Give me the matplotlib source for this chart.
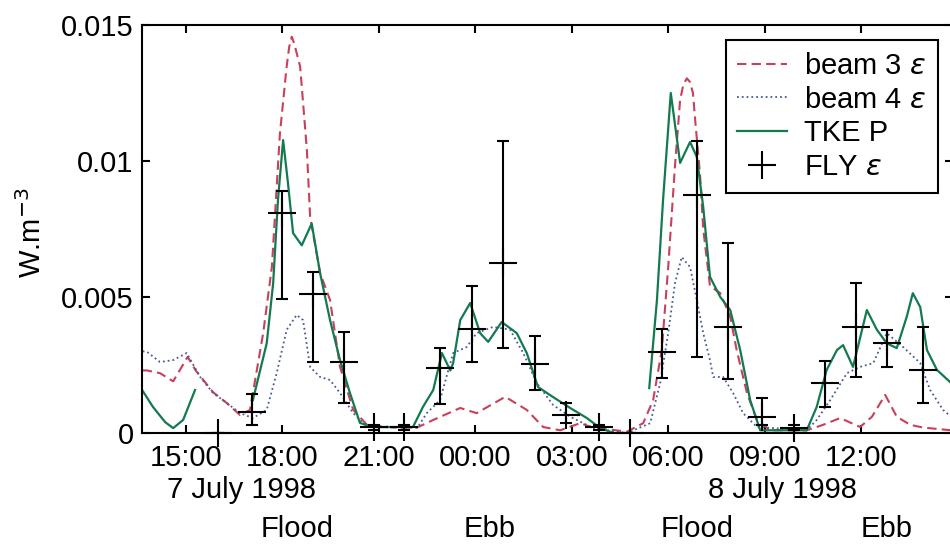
import numpy as np
import matplotlib
matplotlib.use("Agg")
import matplotlib.pyplot as plt
from matplotlib import transforms
from matplotlib.lines import Line2D

# time in hours since 7 July 1998 00:00
beam3_t = [13.65, 13.78, 14.19, 14.60, 14.85, 15.05, 15.30, 15.84, 16.27, 16.68, 16.99,
           17.40, 17.67, 17.92, 18.13, 18.21, 18.29, 18.37, 18.55, 18.76, 18.86, 19.17, 19.48, 19.79,
           20.20, 20.63, 21.50, 22.19, 22.69, 23.53, 24.04, 24.93, 25.60, 26.11, 26.64,
           27.26, 27.66, 28.72, 29.22, 29.53, 29.80, 30.00, 30.21, 30.37, 30.47, 30.58, 30.68, 30.77,
           30.84, 30.99, 31.09, 31.30, 31.62, 31.93, 32.13, 32.45, 32.76, 33.17, 34.31,
           34.82, 35.35, 35.97, 36.34, 36.75, 37.11, 37.53, 37.93, 38.80]
beam3 = [0.0023, 0.0023, 0.0022, 0.0019, 0.0024, 0.0028, 0.0023, 0.0015, 0.0011, 0.00066, 0.00085,
         0.00367, 0.0061, 0.0110, 0.01347, 0.0142, 0.01457, 0.0143, 0.01347, 0.0104, 0.00795, 0.00588, 0.00489, 0.00243,
         0.00085, 0.0003, 0.0002, 0.0002, 0.00048, 0.00092, 0.00073, 0.00133, 0.00085, 0.00022, 0.0001,
         0.00036, 0.0002, 0.00005, 0.00036, 0.0012, 0.00305, 0.0061, 0.0098, 0.01224, 0.0128, 0.01304, 0.0129, 0.0125,
         0.0115, 0.0095, 0.0075, 0.0054, 0.00514, 0.00427, 0.00305, 0.00147, 0.00048, 0.0001, 0.0001,
         0.0003, 0.00055, 0.00022, 0.0006, 0.0014, 0.0006, 0.0003, 0.0002, 0.0001]

beam4_t = [13.65, 13.78, 14.19, 14.60, 15.02, 15.44, 15.84, 16.27, 16.68, 17.08, 17.51,
           17.82, 18.13, 18.44, 18.64, 18.86, 19.17, 19.48, 19.79, 20.20, 20.63, 22.20,
           22.49, 22.90, 23.31, 23.73, 24.04, 24.55, 25.08, 25.49, 25.91, 26.42, 26.95,
           27.66, 28.72, 29.44, 29.75, 30.00, 30.21, 30.42, 30.68, 30.89, 31.09, 31.30,
           31.40, 31.71, 32.02, 32.33, 32.76, 34.31, 34.62, 35.04, 35.56, 35.97, 36.38,
           36.80, 37.31, 37.84, 38.15, 38.55, 38.80]
beam4 = [0.0030, 0.00299, 0.00261, 0.00268, 0.00294, 0.00206, 0.00147, 0.0011, 0.00073, 0.00055, 0.00085,
         0.0022, 0.00379, 0.00434, 0.00415, 0.00243, 0.00206, 0.00195, 0.00147, 0.00073, 0.00022, 0.0002,
         0.00073, 0.00121, 0.00294, 0.00316, 0.00367, 0.0039, 0.0038, 0.00294, 0.00184, 0.00103, 0.0006,
         0.00018, 0.0, 0.00036, 0.00184, 0.00367, 0.0055, 0.00647, 0.0061, 0.00489, 0.00367, 0.00268,
         0.00206, 0.00206, 0.00147, 0.00073, 0.00022, 0.0001, 0.00048, 0.00121, 0.0022, 0.00243, 0.00257,
         0.00367, 0.00316, 0.00257, 0.00158, 0.00085, 0.0006]

# nan marks gaps in the record
tke_t = [13.57, 13.97, 14.35, 14.60, 14.91, 15.28, 16.0,
         17.08, 17.51, 17.71, 17.86, 18.02, 18.17, 18.33, 18.60, 18.91, 19.17, 19.48, 19.79,
         20.10, 20.41, 20.82, 22.06, 22.37, 22.69, 22.96, 23.22, 23.31, 23.53, 23.84, 24.15,
         24.40, 24.82, 25.29, 25.60, 25.95, 26.42, 26.95, 27.47, 27.88, 28.30, 29.0,
         29.41, 29.65, 29.84, 30.08, 30.37, 30.68, 30.89, 31.09, 31.30, 31.62, 31.93, 32.24,
         32.55, 32.86, 34.31, 34.62, 34.93, 35.25, 35.44, 35.75, 36.18, 36.49, 36.80, 37.11,
         37.42, 37.61, 37.84, 38.05, 38.36, 38.80]
tke = [0.0017, 0.00096, 0.0004, 0.00018, 0.00048, 0.00158, np.nan,
       0.00121, 0.0033, 0.0055, 0.00857, 0.01077, 0.0092, 0.00735, 0.0069, 0.0077, 0.00588, 0.00415, 0.00268,
       0.00147, 0.00037, 0.00022, 0.00022, 0.00096, 0.00158, 0.00294, 0.0023, 0.00257, 0.00415, 0.00478, 0.00367,
       0.00335, 0.00408, 0.00367, 0.00294, 0.00169, 0.00132, 0.00092, 0.00055, 0.00018, 0.0, np.nan,
       0.00165, 0.00489, 0.00857, 0.0125, 0.00993, 0.0107, 0.01015, 0.0083, 0.00574, 0.005, 0.00452, 0.00305,
       0.00121, 0.0001, 0.0001, 0.00096, 0.00232, 0.00305, 0.00323, 0.00243, 0.00452, 0.0038, 0.0033, 0.00312,
       0.00427, 0.00514, 0.00463, 0.00305, 0.00232, 0.00184]

fly_t = [16.0, 17.04, 17.98, 18.94, 19.9, 20.86, 21.79, 22.9, 23.89, 24.85, 25.86, 26.82,
         27.86, 28.81, 29.8, 30.89, 31.87, 32.91, 33.9, 34.88, 35.84, 36.8, 37.94]
fly = [0.0, 0.00078, 0.0081, 0.00511, 0.0026, 0.00023, 0.00023, 0.00238, 0.00381, 0.00624, 0.00254, 0.00066,
       0.00023, 0.00001, 0.00299, 0.00875, 0.00389, 0.0006, 0.0002, 0.00185, 0.00391, 0.00332, 0.00232]
fly_hi = [0.0, 0.00143, 0.0089, 0.00593, 0.00372, 0.0003, 0.0003, 0.00314, 0.0054, 0.01074, 0.00357, 0.0011,
          0.0003, 0.00001, 0.00381, 0.01075, 0.00697, 0.00128, 0.0003, 0.00265, 0.0055, 0.00379, 0.00391]
fly_lo = [0.0, 0.00029, 0.00493, 0.00262, 0.00111, 0.0001, 0.0001, 0.00105, 0.00262, 0.00314, 0.00158, 0.00037,
          0.0001, 0.0, 0.00203, 0.0028, 0.00197, 0.0003, 0.0001, 0.00097, 0.00207, 0.00244, 0.00109]

xticks = [15, 18, 21, 24, 27, 30, 33, 36]
xticklabels = ["15:00", "18:00", "21:00", "00:00", "03:00", "06:00", "09:00", "12:00"]
yticks = [0, 0.005, 0.01, 0.015]
yticklabels = ["0", "0.005", "0.01", "0.015"]
date_labels = ["7 July 1998", "8 July 1998"]
date_t = [16.74, 33.57]
tide_labels = ["Flood", "Ebb", "Flood", "Ebb"]
tide_t = [18.45, 24.43, 30.90, 36.78]

plt.rcParams["font.family"] = ["Liberation Sans", "DejaVu Sans"]
plt.rcParams["mathtext.fontset"] = "dejavusans"
FS = 21

fig = plt.figure(figsize=(9.5, 5.44), dpi=100)
ax = fig.add_axes([142 / 950, 111 / 544, 811 / 950, 408 / 544])

ax.plot(beam3_t, beam3, color="#c8405a", lw=1.5, dashes=(4.5, 2.5))
ax.plot(beam4_t, beam4, color="#4a5a96", lw=1.3, linestyle=":")
ax.plot(tke_t, tke, color="#137a50", lw=1.6)

fly = np.array(fly)
err = [fly - np.array(fly_lo), np.array(fly_hi) - fly]
eb = ax.errorbar(fly_t, fly, yerr=err, fmt="+", color="k", ms=20, mew=1.5,
                 elinewidth=1.5, capsize=4.5, capthick=1.5)
eb.lines[0].set_clip_on(False)

ax.set_xlim(13.63, 38.86)
ax.set_ylim(0, 0.015)
ax.set_xticks(xticks)
ax.set_xticklabels(xticklabels)
ax.set_yticks(yticks)
ax.set_yticklabels(yticklabels)
ax.tick_params(direction="in", length=6, width=1.5, labelsize=FS,
               top=True, right=True)
ax.tick_params(axis="x", pad=8)
ax.tick_params(axis="y", pad=6)
for s in ax.spines.values():
    s.set_linewidth(1.5)

ax.set_ylabel(r"W.m$^{-3}$", fontsize=FS)
ax.yaxis.set_label_coords(-0.117, 0.49)

trans = transforms.blended_transform_factory(ax.transData, ax.transAxes)
for lab, t in zip(date_labels, date_t):
    ax.text(t, -0.16, lab, transform=trans, ha="center", va="baseline", fontsize=FS)
for lab, t in zip(tide_labels, tide_t):
    ax.text(t, -0.2695, lab, transform=trans, ha="center", va="bottom", fontsize=FS)

handles = [
    Line2D([], [], color="#c8405a", lw=1.5, dashes=(4.5, 2.5)),
    Line2D([], [], color="#4a5a96", lw=1.3, linestyle=":"),
    Line2D([], [], color="#137a50", lw=1.6),
    Line2D([], [], color="k", ls="none", marker="+", ms=20, mew=1.5),
]
labels = [r"beam 3 $\varepsilon$", r"beam 4 $\varepsilon$", "TKE P", r"FLY $\varepsilon$"]
leg = ax.legend(handles, labels, loc="upper right", bbox_to_anchor=(0.9815, 0.963),
                borderaxespad=0, fontsize=FS, fancybox=False, framealpha=1, edgecolor="k",
                handlelength=1.7, handletextpad=0.6, labelspacing=0.2, borderpad=0.4)
leg.get_frame().set_linewidth(1.5)

fig.savefig("out.png", dpi=100)
